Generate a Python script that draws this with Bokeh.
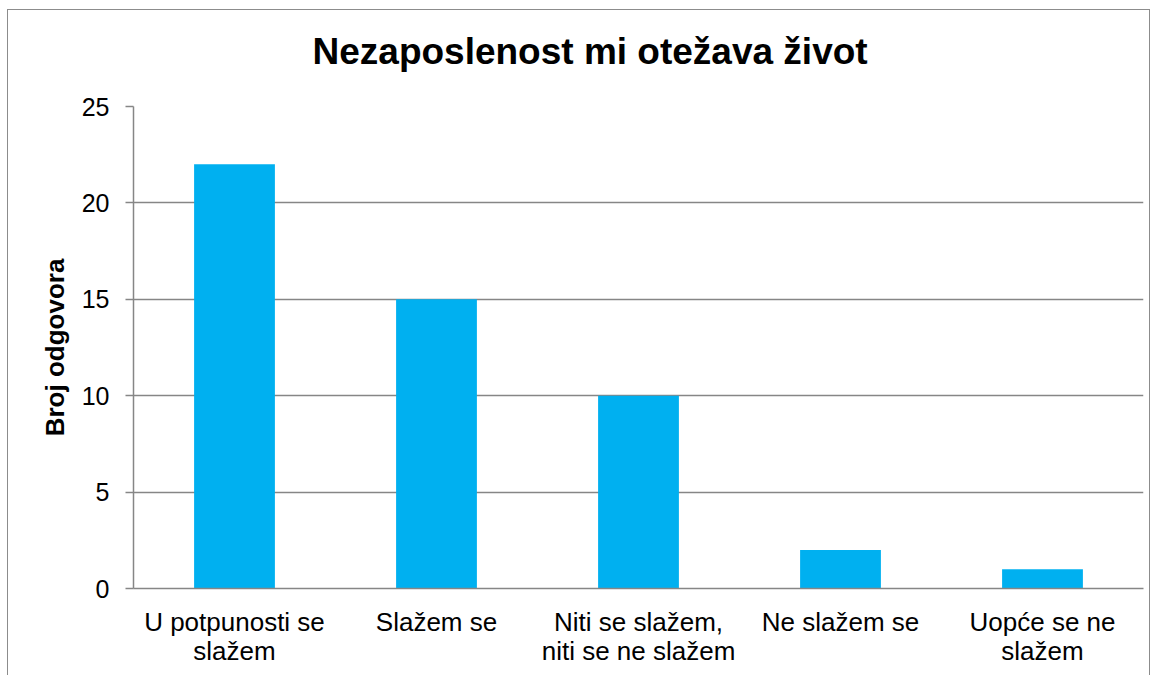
from bokeh.plotting import figure
from bokeh.models import FactorRange, Range1d, FixedTicker, ColumnDataSource, Title
from bokeh.embed import file_html
from bokeh.resources import INLINE

categories = ["U potpunosti se\nslažem", "Slažem se", "Niti se slažem,\nniti se ne slažem",
              "Ne slažem se", "Uopće se ne\nslažem"]
counts = [22, 15, 10, 2, 1]
y_ticks = [0, 5, 10, 15, 20, 25]
title_text = "Nezaposlenost mi otežava život"
y_label = "Broj odgovora"

FONT = "Liberation Sans"
GRID = "#868686"

src = ColumnDataSource(dict(cat=categories, val=counts))

p = figure(width=1141, height=665, x_range=FactorRange(*categories, range_padding=0),
           y_range=Range1d(0, 25), output_backend="svg", toolbar_location=None,
           min_border_left=125, min_border_right=6, min_border_top=96, min_border_bottom=87)
p.styles = {"position": "relative", "left": "8px", "top": "10px",
            "outline": "1.5px solid #8c8c8c"}

p.vbar(x="cat", top="val", width=0.4, source=src, color="#00B0F0", line_color=None)

# spacer between the title and the plot frame
p.add_layout(Title(text=" ", text_font=FONT, text_font_size="10px", standoff=17), "above")

p.title.text = title_text
p.title.text_font = FONT
p.title.text_font_size = "37px"
p.title.text_font_style = "bold"
p.title.text_color = "black"
p.title.align = "left"
p.title.offset = 179
p.title.standoff = 10

p.outline_line_color = None
p.xgrid.grid_line_color = None
p.ygrid.grid_line_color = GRID
p.ygrid.grid_line_width = 1.5
p.yaxis.ticker = FixedTicker(ticks=y_ticks)

for ax in (p.xaxis[0], p.yaxis[0]):
    ax.axis_line_color = GRID
    ax.axis_line_width = 1.5
    ax.major_label_text_font = FONT
    ax.major_label_text_font_size = "25px"
    ax.major_label_text_color = "black"
    ax.minor_tick_line_color = None

p.yaxis.major_tick_line_color = GRID
p.yaxis.major_tick_line_width = 1.5
p.yaxis.major_tick_out = 8
p.yaxis.major_tick_in = 0
p.yaxis.major_label_standoff = 16
p.yaxis.axis_label = y_label
p.yaxis.axis_label_text_font = FONT
p.yaxis.axis_label_text_font_size = "26px"
p.yaxis.axis_label_text_font_style = "bold"
p.yaxis.axis_label_text_color = "black"
p.yaxis.axis_label_standoff = 9

p.xaxis.major_tick_line_color = None
p.xaxis.major_label_standoff = 12
p.xaxis.major_label_orientation = "horizontal"
p.xaxis.major_label_text_font_size = "26px"
p.xaxis.major_label_text_line_height = 0.97

open("out.html", "w").write(file_html(p, INLINE))
